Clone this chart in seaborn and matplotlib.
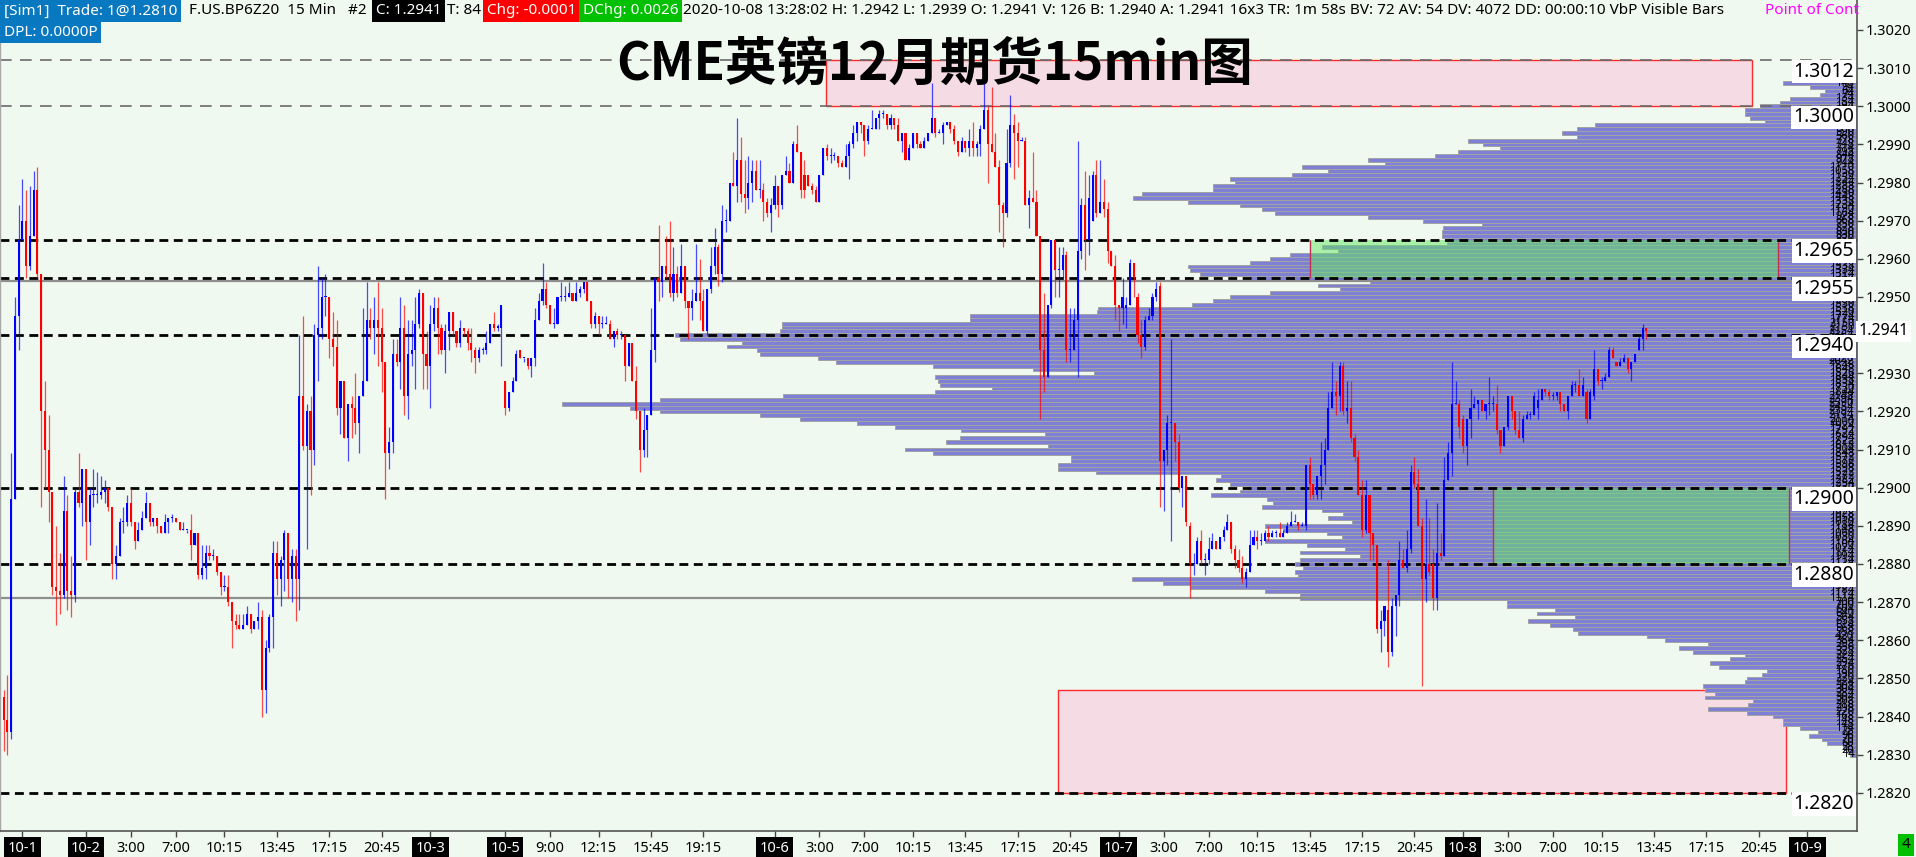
import numpy as np
import matplotlib
matplotlib.use("Agg")
import matplotlib.pyplot as plt
import matplotlib.transforms as mtransforms
from matplotlib.patches import Rectangle
import seaborn as sns

# ---------------- data (prices in 1e-4 above 1.0000, e.g. 2941 -> 1.2941) -------------
BAR_START = -22          # bar index of first candle (bar 0 = 10-2 00:00)
open_overrides = {-22: 2845, 112: 2928, 116: 2936, 192: 2982, 193: 2982, 269: 2970,
                  278: 2947, 281: 2950, 287: 2953, 295: 2890, 348: 2868, 360: 2880,
                  368: 2918, 388: 2921, 401: 2925, 403: 2924, 409: 2933, 415: 2936}

close_a = [2839,2836,2897,2945,2965,2970,2958,2966,2978,2956, 2920,2910,2899,2874,2873,2872,2894,2873,2872,2899,
           2896,2905,2891,2898,2898,2898,2899,2900,2895,2880, 2882,2891,2891,2896,2891,2886,2889,2892,2896,2891,
           2892,2890,2888,2891,2892,2892,2891,2889,2889,2889, 2885,2888,2877,2879,2883,2882,2882,2878,2874,2874,
           2870,2865,2864,2863,2864,2867,2863,2865,2866,2847, 2858,2866,2883,2876,2881,2888,2876,2882,2876,2924,
           2911,2920,2910,2940,2942,2950,2950,2939,2937,2921, 2928,2913,2922,2921,2917,2924,2928,2944,2942,2944,
           2942,2933,2909,2912,2935,2933,2942,2924,2935,2936, 2943]
high_a = [2847,2851,2909,2950,2974,2981,2978,2979,2983,2984, 2956,2928,2919,2899,2890,2883,2903,2898,2882,2900,
          2909,2905,2905,2900,2905,2904,2903,2902,2900,2895, 2885,2892,2895,2898,2900,2891,2891,2894,2899,2896,
          2892,2892,2890,2893,2892,2893,2892,2891,2891,2889, 2893,2888,2887,2885,2885,2885,2884,2882,2877,2877,
          2877,2870,2867,2867,2867,2869,2865,2865,2870,2868, 2860,2867,2886,2886,2882,2889,2888,2884,2884,2940,
          2945,2922,2924,2943,2958,2955,2956,2950,2946,2944, 2928,2927,2922,2924,2930,2924,2947,2954,2947,2950,
          2954,2947,2933,2916,2939,2939,2950,2948,2944,2944, 2950]
low_a = [2831,2830,2834,2897,2936,2965,2955,2957,2966,2955, 2895,2900,2891,2872,2864,2867,2871,2868,2866,2870,
         2895,2890,2881,2885,2895,2896,2897,2896,2894,2876, 2876,2882,2888,2890,2890,2884,2886,2889,2892,2890,
         2890,2888,2888,2888,2888,2891,2891,2889,2889,2888, 2881,2885,2876,2876,2876,2881,2881,2877,2872,2873,
         2869,2858,2863,2863,2863,2864,2862,2863,2863,2840, 2841,2857,2858,2872,2869,2873,2871,2870,2865,2868,
         2910,2884,2898,2906,2928,2939,2945,2934,2932,2919, 2914,2913,2907,2913,2914,2909,2925,2928,2939,2935,
         2932,2925,2897,2905,2909,2932,2926,2919,2918,2932, 2926]

close_b = [2951,2935,2932,2943,2947,2942,2936,2941,2946,2941, 2938,2942,2941,2938,2936,2934,2936,2936,2938,2943,
           2942,2942,2948,2921,2925,2928,2935,2934,2934,2932, 2934,2944,2949,2952,2948,2943,2943,2950,2950,2950,
           2951,2949,2951,2952,2954,2949,2943,2945,2943,2943, 2943,2939,2941,2940,2940,2932,2938,2928,2920,2910,
           2915,2919,2936,2955,2954,2958,2956,2951,2956,2951, 2958,2949,2947,2949,2951,2949,2941,2952,2958,2963,
           2956,2970,2970,2980,2979,2986,2977,2976,2980,2983, 2978,2978,2975,2972,2974,2979,2974,2982,2983,2980,
           2990,2988,2978,2978,2979,2978,2975,2982,2989,2987, 2987,2987]
high_b = [2952,2945,2941,2948,2950,2950,2943,2943,2946,2946, 2940,2944,2942,2942,2942,2937,2937,2937,2941,2943,
          2946,2943,2948,2928,2925,2929,2936,2936,2934,2934, 2934,2947,2951,2959,2954,2948,2947,2950,2954,2953,
          2954,2951,2954,2953,2954,2953,2949,2946,2944,2945, 2945,2944,2941,2942,2941,2939,2938,2938,2932,2920,
          2921,2919,2947,2955,2969,2958,2966,2970,2963,2958, 2964,2958,2949,2952,2964,2960,2952,2952,2963,2968,
          2964,2974,2973,2980,2988,2997,2992,2986,2987,2986, 2986,2986,2980,2976,2976,2982,2979,2982,2987,2985,
          2991,2995,2988,2986,2982,2980,2979,2982,2989,2990, 2989,2988]
low_b = [2942,2926,2926,2921,2941,2935,2935,2930,2936,2940, 2937,2937,2940,2936,2933,2930,2933,2935,2935,2938,
         2941,2941,2932,2919,2920,2925,2928,2934,2933,2931, 2929,2932,2944,2948,2947,2943,2942,2943,2949,2949,
         2950,2949,2949,2950,2951,2949,2942,2942,2940,2942, 2943,2939,2937,2939,2939,2928,2932,2928,2918,2904,
         2908,2908,2919,2933,2949,2950,2955,2950,2949,2950, 2951,2947,2939,2944,2950,2944,2941,2940,2951,2956,
         2953,2954,2967,2971,2979,2975,2975,2972,2973,2975, 2978,2976,2970,2971,2967,2973,2971,2973,2982,2980,
         2980,2988,2976,2976,2979,2977,2975,2975,2984,2986, 2985,2986]

close_c = [2985,2984,2987,2990,2993,2996,2995,2991,2994,2994, 2997,2998,2998,2995,2997,2995,2991,2993,2986,2989,
           2993,2990,2989,2991,2993,2997,2993,2993,2995,2996, 2994,2991,2988,2991,2989,2991,2989,2990,2994,2999,
           2990,2988,2984,2974,2972,2985,2995,2993,2991,2991, 2974,2976,2975,2966,2936,2929,2948,2965,2957,2957,
           2961,2936,2936,2944,2962,2974,2965,2976,2982,2972, 2975,2973,2962,2958,2948,2947,2950,2948,2959,2955,
           2940,2937,2944,2945,2950,2952,2907,2910,2917,2917, 2912,2900,2903,2891,2880,2880,2886,2881,2881,2884,
           2886,2884,2887,2889,2891,2884,2881,2879,2876,2878, 2885,2887]
high_c = [2987,2986,2990,2991,2995,2996,2996,2995,2995,2999, 2997,2999,2999,2998,2998,2997,2997,2993,2993,2990,
          2993,2993,2991,2992,2993,3006,2997,2994,2996,2996, 2995,2995,2991,2992,2991,2994,2996,2991,2995,3007,
          3000,3005,2993,2986,2975,2994,3003,2998,2996,2992, 2992,2978,2988,2978,2966,2951,2948,2965,2964,2963,
          2963,2962,2947,2947,2991,2976,2983,2982,2983,2986, 2986,2981,2975,2962,2961,2948,2955,2950,2960,2959,
          2951,2944,2945,2947,2951,2954,2954,2910,2919,2939, 2917,2914,2903,2903,2891,2883,2887,2889,2883,2887,
          2888,2886,2887,2890,2893,2891,2885,2884,2882,2879, 2889,2889]
low_c = [2984,2984,2984,2981,2989,2991,2993,2987,2990,2994, 2994,2994,2997,2994,2994,2994,2991,2988,2986,2986,
         2989,2989,2989,2989,2991,2993,2992,2993,2990,2995, 2993,2990,2987,2988,2988,2987,2987,2987,2987,2994,
         2980,2988,2984,2967,2963,2971,2984,2981,2984,2991, 2974,2968,2975,2966,2918,2925,2929,2947,2950,2950,
         2955,2933,2933,2937,2929,2960,2957,2961,2970,2971, 2972,2971,2959,2958,2944,2941,2943,2942,2949,2950,
         2938,2934,2936,2944,2944,2949,2895,2894,2906,2886, 2907,2899,2895,2890,2871,2877,2881,2880,2877,2880,
         2884,2884,2884,2886,2889,2883,2879,2878,2875,2874, 2878,2886]

close_d = [2886,2886,2888,2887,2888,2888,2887,2888,2890,2891, 2891,2890,2890,2906,2901,2898,2903,2906,2910,2921,
           2925,2924,2932,2920,2921,2913,2908,2898,2889,2898, 2888,2885,2863,2865,2869,2857,2869,2872,2881,2879,
           2884,2904,2901,2890,2876,2880,2878,2871,2883,2882, 2902,2909,2922,2922,2916,2911,2918,2921,2922,2923,
           2920,2922,2922,2922,2915,2911,2916,2924,2920,2915, 2913,2918,2919,2919,2924,2923,2926,2925,2924,2924,
           2925,2922,2920,2924,2927,2927,2924,2927,2918,2925, 2931,2928,2928,2929,2936,2934,2932,2933,2934,2931,
           2933,2935,2939,2942,2941]
high_d = [2889,2888,2889,2890,2889,2889,2891,2889,2891,2894, 2893,2891,2891,2906,2908,2901,2903,2912,2913,2925,
          2933,2928,2933,2933,2928,2928,2914,2910,2902,2902, 2898,2888,2885,2868,2869,2881,2871,2872,2886,2884,
          2889,2906,2908,2905,2892,2897,2892,2884,2896,2888, 2908,2912,2933,2928,2923,2919,2918,2926,2924,2923,
          2923,2922,2929,2924,2927,2915,2916,2924,2923,2920, 2920,2919,2920,2920,2925,2926,2926,2926,2926,2925,
          2925,2925,2922,2924,2928,2928,2931,2929,2926,2926, 2936,2930,2929,2930,2937,2937,2933,2934,2935,2934,
          2933,2935,2940,2943,2942]
low_d = [2884,2885,2886,2886,2887,2887,2887,2887,2888,2890, 2891,2889,2890,2889,2897,2897,2897,2897,2901,2910,
         2921,2919,2920,2919,2917,2912,2907,2898,2887,2888, 2881,2881,2862,2857,2861,2853,2856,2861,2869,2879,
         2878,2883,2900,2890,2848,2870,2877,2868,2868,2881, 2882,2902,2903,2922,2913,2909,2906,2913,2921,2918,
         2920,2918,2919,2920,2914,2909,2911,2915,2918,2914, 2913,2912,2918,2918,2919,2918,2923,2924,2923,2923,
         2923,2920,2920,2918,2924,2925,2924,2924,2917,2918, 2923,2927,2926,2928,2929,2934,2932,2932,2933,2930,
         2928,2933,2936,2936,2939]

# volume-by-price profile, from 1.3006 down to 1.2830 (one value per 0.0001 level)
profile_top = 3006
profile_vol = [148,94,64,74,134,154,194,224,224,214,
               184,524,560,590,560,778,748,714,798,844,
               978,944,1110,1058,1130,1254,1244,1288,1288,1430,
               1448,1338,1234,1190,1164,978,868,750,828,830,
               830,820,820,1070,1038,1134,1174,1214,1338,1334,
               1314,1214,974,1078,1034,1174,1254,1288,1330,1518,
               1520,1774,1774,2150,2150,2154,2364,2354,2230,2260,
               2200,2194,2078,2042,1848,1648,1526,1844,1838,1834,
               1730,1844,2148,2394,2590,2454,2394,2194,2114,2000,
               1924,1792,1624,1794,1822,1618,1904,1848,1572,1572,
               1598,1598,1522,1272,1282,1254,1220,1234,1292,1180,
               1168,1190,1070,1028,1058,1010,1184,1148,1060,1030,
               1184,1100,1024,1114,994,1114,1124,1108,1124,1118,
               1450,1388,1334,1184,1114,1114,700,700,604,640,
               564,658,614,568,558,420,384,298,356,328,
               224,254,294,276,180,190,220,224,308,304,
               284,304,208,218,298,220,168,148,148,114,
               78,96,70,60,28,20,14]
profile_vmax = 3714

key_levels = [1.2965, 1.2955, 1.2940, 1.2900, 1.2880, 1.2820]
gray_levels = [1.3012, 1.3000]
value_area = [1.29543, 1.28712]
last_price = 1.2941

tick_pos = [-17, 0, 12, 24, 37, 51, 65, 79, 92, 112, 124, 137, 151, 165, 184, 196, 208, 221, 235, 249, 263,
            276, 288, 300, 313, 327, 341, 355, 368, 380, 392, 405, 419, 433, 447, 460]
tick_lab = ["10-1", "10-2", "3:00", "7:00", "10:15", "13:45", "17:15", "20:45", "10-3", "10-5", "9:00",
            "12:15", "15:45", "19:15", "10-6", "3:00", "7:00", "10:15", "13:45", "17:15", "20:45",
            "10-7", "3:00", "7:00", "10:15", "13:45", "17:15", "20:45", "10-8", "3:00", "7:00", "10:15",
            "13:45", "17:15", "20:45", "10-9"]

# zones: (bar_from, bar_to, price_low, price_high)
pink_zones = [(197.8, 445.2, 1.3000, 1.3012), (259.8, 454.3, 1.2820, 1.2847)]
green_zones = [(327.1, 452.2, 1.2955, 1.2965), (376.0, 455.1, 1.2880, 1.2900)]

# ---------------- styling ----------------
sns.set_theme(style="white")
plt.rcParams["font.family"] = ["Noto Sans", "DejaVu Sans"]
BG = "#F0F9F0"
PURPLE = "#7E80D6"

W, H = 1916, 857
fig = plt.figure(figsize=(W / 100, H / 100), dpi=100, facecolor=BG)
ax = fig.add_axes([0, 26 / H, 1857 / W, 831 / H])
ax2 = ax.twiny()
ax.set_zorder(ax2.get_zorder() + 1)
ax.patch.set_visible(False)
ax2.patch.set_visible(True)
ax2.set_facecolor(BG)

# candles
closes = np.array(close_a + close_b + close_c + close_d, dtype=float)
highs = np.array(high_a + high_b + high_c + high_d, dtype=float)
lows = np.array(low_a + low_b + low_c + low_d, dtype=float)
opens = np.empty_like(closes)
opens[1:] = closes[:-1]
opens[0] = closes[0]
for k, v in open_overrides.items():
    opens[k - BAR_START] = v
highs = np.maximum(highs, np.maximum(opens, closes))
lows = np.minimum(lows, np.minimum(opens, closes))
o, c, hi, lo = [1 + a / 1e4 for a in (opens, closes, highs, lows)]
x = np.arange(BAR_START, BAR_START + len(c))
cols = np.where(c >= o, "#0000FF", "#FF0000")

ax.vlines(x, lo, hi, colors=cols, lw=0.9, alpha=0.7, zorder=3)
body_h = np.maximum(np.abs(c - o), 0.28e-4)
ax.bar(x, body_h, bottom=np.minimum(o, c), width=0.56, color=cols, linewidth=0, zorder=3.1)

XMIN = -86 / 3.742
XMAX = (1857 - 86) / 3.742
YMIN, YMAX = 1.28100, 1.302786
ax.set_xlim(XMIN, XMAX)
ax.set_ylim(YMIN, YMAX)

# pink zones (under profile)
for x0, x1, y0, y1 in pink_zones:
    ax2.add_patch(Rectangle((x0, y0), x1 - x0, y1 - y0, transform=ax.transData,
                            facecolor="#F5DCE4", edgecolor="#FF2A2A", lw=1.0, zorder=1))

# volume profile
levels = 1 + (profile_top - np.arange(len(profile_vol))) / 1e4
ax2.barh(levels, profile_vol, height=1e-4, left=0, color=PURPLE, edgecolor="#A3A3A3",
         linewidth=0.7, zorder=2)
ax2.set_xlim(profile_vmax, 0)
ax2.set_ylim(YMIN, YMAX)
ax2.xaxis.set_visible(False)
for s in ax2.spines.values():
    s.set_visible(False)

# green zones (over profile)
for x0, x1, y0, y1 in green_zones:
    ax.add_patch(Rectangle((x0, y0), x1 - x0, y1 - y0, facecolor=(0.39, 0.9, 0.39),
                           alpha=0.5, edgecolor="none", zorder=1))
    ax.vlines([x0, x1], y0, y1, colors="#C03050", lw=1.0, zorder=1.2)

# horizontal lines
for yv in value_area:
    ax.axhline(yv, color="#8E8E8E", lw=1.6, zorder=2)
for yv in gray_levels:
    ax.axhline(yv, color="#6A6A6A", lw=1.2, ls=(0, (7, 5)), zorder=2)
for yv in key_levels:
    ax.axhline(yv, color="black", lw=2.0, ls=(0, (3.2, 2)), zorder=2.2)

blend = mtransforms.blended_transform_factory(ax.transAxes, ax.transData)

# volume numbers at the right of the profile (dense, as in the source platform)
for lv, vv in zip(levels, profile_vol):
    ax.text(0.9985, lv, str(vv), transform=blend, ha="right", va="center", fontsize=8,
            fontweight="bold", color="black", zorder=4, clip_on=False)

# level labels
for yv in gray_levels + key_levels:
    ax.text(0.9985, yv - 0.00003, f"{yv:.4f}", transform=blend, ha="right", va="top",
            fontsize=14, color="black", zorder=6,
            bbox=dict(facecolor="white", edgecolor="none", pad=1.2))

# last price tag on the axis
ax.text(1.0008, last_price, f"{last_price:.4f}", transform=blend, ha="left", va="center",
        fontsize=11.5, color="black", zorder=7,
        bbox=dict(facecolor="white", edgecolor="none", pad=2.0))

# axes styling
ax.yaxis.tick_right()
yt = [1.282 + k * 0.001 for k in range(21)]
ax.set_yticks(yt)
ax.set_yticklabels([f"{v:.4f}" for v in yt])
ax.tick_params(axis="y", right=True, left=False, labelright=True, labelleft=False,
               direction="out", length=4, width=1, color="#444444", labelsize=10.5,
               labelcolor="black", pad=2)
ax.set_xticks(tick_pos)
ax.set_xticklabels(tick_lab)
ax.tick_params(axis="x", bottom=True, direction="out", length=4, width=1, color="#444444",
               labelsize=10.5, labelcolor="black", pad=3)
for lbl in ax.get_xticklabels():
    if "-" in lbl.get_text():
        lbl.set_color("white")
        lbl.set_bbox(dict(facecolor="black", edgecolor="none", pad=2.5))
ax.spines["top"].set_visible(False)
ax.spines["right"].set_color("#555555")
ax.spines["right"].set_linewidth(1.2)
ax.spines["bottom"].set_color("#555555")
ax.spines["bottom"].set_linewidth(1.2)
ax.spines["left"].set_color("#A8A8A8")
ax.spines["left"].set_linewidth(1.0)
ax.grid(False)
ax2.grid(False)

# header line
def ftxt(px, py, s, color="black", bg=None, size=11):
    kw = dict(fontsize=size, color=color, ha="left", va="center", zorder=10)
    if bg is not None:
        kw["bbox"] = dict(facecolor=bg, edgecolor="none", pad=2.6)
    fig.text(px / W, 1 - py / H, s, **kw)

ftxt(4, 11, "[Sim1]  Trade: 1@1.2810", "white", "#0878C0")
ftxt(189, 11, "F.US.BP6Z20  15 Min   #2")
ftxt(376, 11, "C: 1.2941", "white", "black")
ftxt(447, 11, "T: 84")
ftxt(487, 11, "Chg: -0.0001", "white", "#FF0000")
ftxt(583, 11, "DChg: 0.0026", "white", "#00C000")
ftxt(683, 11, "2020-10-08 13:28:02 H: 1.2942 L: 1.2939 O: 1.2941 V: 126 B: 1.2940 A: 1.2941 "
              "16x3 TR: 1m 58s BV: 72 AV: 54 DV: 4072 DD: 00:00:10 VbP Visible Bars")
ftxt(1765, 11, "Point of Cont", "#FF00FF")
ftxt(4, 32, "DPL: 0.0000P", "white", "#0878C0")

# title
fig.text(935 / W, 1 - 64 / H, "CME英镑12月期货15min图", fontsize=37, fontweight="bold",
         family=["Noto Sans CJK SC", "DejaVu Sans"], ha="center", va="center", color="black",
         zorder=11)

# small status box bottom-right
fig.text(1906 / W, 1 - 845 / H, "4", fontsize=11, color="black", ha="center", va="center",
         bbox=dict(facecolor="#00C000", edgecolor="none", pad=2.5))

fig.savefig("out.png", dpi=100, facecolor=BG)
